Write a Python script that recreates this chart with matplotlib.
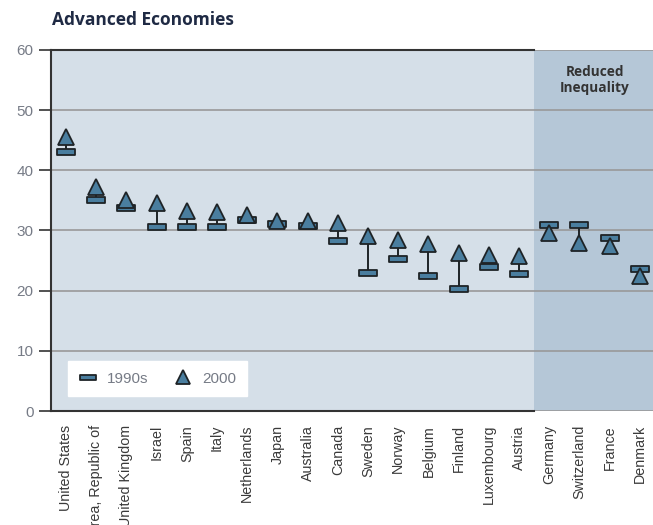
import numpy as np
import matplotlib
matplotlib.use("Agg")
import matplotlib.pyplot as plt
from matplotlib.path import Path

# country list, left to right
countries = ["United States", "Korea, Republic of", "United Kingdom", "Israel", "Spain",
             "Italy", "Netherlands", "Japan", "Australia", "Canada", "Sweden", "Norway",
             "Belgium", "Finland", "Luxembourg", "Austria", "Germany", "Switzerland",
             "France", "Denmark"]
# inequality values
val_1990s = [43.0, 35.0, 33.7, 30.5, 30.5, 30.5, 31.8, 31.0, 30.7, 28.2, 23.0, 25.3,
             22.5, 20.3, 23.9, 22.8, 30.9, 30.9, 28.8, 23.6]
val_2000 = [45.6, 37.2, 35.0, 34.6, 33.3, 33.1, 32.6, 31.6, 31.5, 31.2, 29.0, 28.5,
            27.7, 26.3, 25.9, 25.7, 29.6, 28.0, 27.5, 22.4]
n_reduced = 4

plt.rcParams['font.family'] = ['Liberation Sans', 'DejaVu Sans']

fig = plt.figure(figsize=(6.53, 5.25), dpi=100)
ax = fig.add_axes([0.078, 0.217, 0.925, 0.688])

x = np.arange(len(countries))
n = len(countries)
split = n - n_reduced - 0.5

ax.set_facecolor("#d5dfe8")
ax.axvspan(split, n - 0.5, color="#b5c7d7", zorder=0, lw=0)

# horizontal box marker
box = Path([(-1, -0.32), (1, -0.32), (1, 0.32), (-1, 0.32), (-1, -0.32)],
           [Path.MOVETO, Path.LINETO, Path.LINETO, Path.LINETO, Path.CLOSEPOLY])

fill = "#4a7e9f"
edge = "#1e2326"

ax.vlines(x, val_1990s, val_2000, color=edge, lw=1.4, zorder=2)
ax.plot(x, val_1990s, ls="none", marker=box, ms=12.5, mfc=fill, mec=edge, mew=1.3,
        zorder=3, label="1990s")
ax.plot(x, val_2000, ls="none", marker="^", ms=11.5, mfc=fill, mec=edge, mew=1.3,
        zorder=4, label="2000")

ax.set_xlim(-0.5, n - 0.5)
ax.set_ylim(0, 60)
ax.set_yticks(range(0, 61, 10))
ax.yaxis.grid(True, color="#999999", lw=1.2, zorder=1)
ax.set_axisbelow(True)

for s in ["top", "bottom", "right"]:
    ax.spines[s].set_visible(False)
ax.spines["left"].set_color("#333333")
ax.spines["left"].set_linewidth(1.5)
frac = (split + 0.5) / n
ax.axhline(60, xmin=0, xmax=frac, color="#333333", lw=1.5, clip_on=False, zorder=5)
ax.axhline(0, xmin=0, xmax=frac, color="#333333", lw=1.5, clip_on=False, zorder=5)

ax.set_xticks(x)
ax.set_xticklabels(countries, rotation=90, fontsize=10.3, color="#3a3a3a")
ax.tick_params(axis="x", length=0, pad=10)
ax.tick_params(axis="y", length=8.5, width=1.2, color="#333333", labelsize=11,
               labelcolor="#767b86", pad=4)

ax.text(n - 0.5 - n_reduced / 2, 55, "Reduced\nInequality", ha="center", va="center",
        fontsize=9.8, fontweight="bold", color="#333333", family="Open Sans",
        linespacing=1.15)

fig.text(0.08, 0.962, "Advanced Economies", fontsize=12.5, fontweight="bold",
         color="#1f2a44", family="Open Sans", va="center")

leg = ax.legend(loc="lower left", bbox_to_anchor=(0.015, 0.02), ncol=2, frameon=True,
                fancybox=False, fontsize=11, handletextpad=0.6, columnspacing=1.6,
                borderpad=0.7, handlelength=1.3, markerscale=0.9)
leg.get_frame().set_edgecolor("white")
leg.get_frame().set_facecolor("white")
leg.get_frame().set_alpha(1)
for t in leg.get_texts():
    t.set_color("#767b86")

fig.savefig("out.png", dpi=100)
